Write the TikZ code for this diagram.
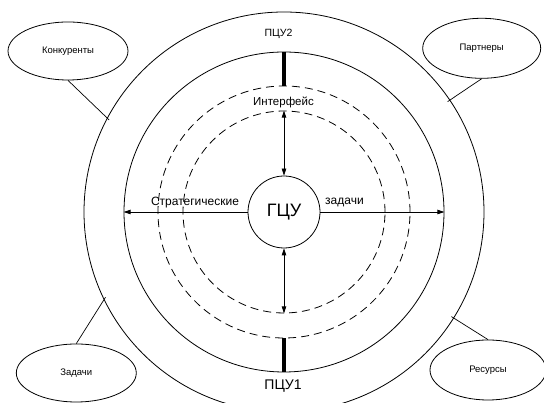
\documentclass[tikz,border=0pt]{standalone}
\usepackage{fontspec}
\setmainfont{Liberation Sans}
\usetikzlibrary{arrows.meta,shapes.geometric}
\begin{document}
\begin{tikzpicture}[x=1pt,y=1pt,
  ring/.style={circle,draw,line width=0.8pt,inner sep=0pt,minimum size=#1},
  dring/.style={circle,draw,line width=0.8pt,inner sep=0pt,minimum size=#1,
    dash pattern=on 8pt off 5pt},
  oval/.style={ellipse,draw,line width=0.8pt,inner sep=0pt,
    minimum width=120pt,minimum height=58pt,font=\fontsize{9.5}{11}\selectfont},
  link/.style={line width=0.7pt},
  bar/.style={line width=3.5pt},
  flow/.style={line width=0.8pt,-{Triangle[length=7pt,width=4.5pt]}},
  flowboth/.style={line width=0.8pt,{Triangle[length=7pt,width=4.5pt]}-{Triangle[length=7pt,width=4.5pt]}},
  lbl/.style={inner sep=0pt}
]
\clip (0,0) rectangle (544,403);

% concentric rings around the centre
\node[ring=400pt] (outer) at (284,191) {};
\node[ring=320pt] (solid) at (284,191) {};
\node[dring=252pt] (dashA) at (284,191) {};
\node[dring=202pt] (dashB) at (284,191) {};
\node[ring=72pt,fill=white,font=\fontsize{18}{20}\selectfont] (gcu) at (284,191) {ГЦУ};

% labels
\node[lbl,font=\fontsize{10.5}{12}\selectfont] (p2) at (278.5,369.5) {ПЦУ2};
\node[lbl,font=\fontsize{14}{16}\selectfont] (p1) at (283,17) {ПЦУ1};
\node[lbl,font=\fontsize{11.5}{13}\selectfont] (intf) at (283.5,300.5) {Интерфейс};
\node[lbl,font=\fontsize{12}{14}\selectfont] (strat) at (195,200.5) {Стратегические};
\node[lbl,font=\fontsize{12}{14}\selectfont] (task) at (344.5,200.5) {задачи};

% thick links between the solid ring and the outer dashed ring
\draw[bar] (solid.north) -- (dashA.north);
\draw[bar] (dashA.south) -- (solid.south);

% arrows from the centre
\draw[flowboth] (dashB.north) -- (gcu.north);
\draw[flowboth] (gcu.south) -- (dashB.south);
\draw[flow] (gcu.west) -- (solid.west);
\draw[flow] (gcu.east) -- (solid.east);

% environment ovals
\node[oval] (konk) at (68,352) {Конкуренты};
\node[oval,minimum height=60pt,minimum width=118pt] (part) at (481.7,354.7) {Партнеры};
\node[oval] (zad) at (76.3,30) {Задачи};
\node[oval,minimum height=60pt,minimum width=116pt] (res) at (488,33) {Ресурсы};

\draw[link,shorten >=-3pt] (konk.south) -- (outer.152);
\draw[link,shorten >=-3pt] (part.south) -- (outer.34);
\draw[link,shorten >=-3pt] (zad.north) -- (outer.206);
\draw[link,shorten >=-3pt] (res.north) -- (outer.328);
\end{tikzpicture}
\end{document}
